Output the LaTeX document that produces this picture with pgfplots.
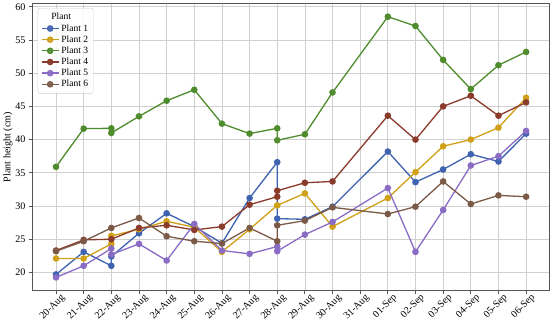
\documentclass[border=0pt]{standalone}
\usepackage{pgfplots}
\pgfplotsset{compat=1.18}
\usepackage{fontspec}
\setmainfont{Liberation Serif}

\definecolor{pA}{HTML}{3F63B0}
\definecolor{pB}{HTML}{D1A019}
\definecolor{pC}{HTML}{4E8C2E}
\definecolor{pD}{HTML}{8A3B2C}
\definecolor{pE}{HTML}{8A6CC4}
\definecolor{pF}{HTML}{7B5A48}
\definecolor{gridc}{HTML}{D0D0D0}
\definecolor{spine}{HTML}{555555}

\begin{document}
\begin{tikzpicture}
\begin{axis}[
    width=512bp, height=284bp,
    scale only axis,
    xmin=-0.85, xmax=17.85,
    ymin=17.27, ymax=60.45,
    xtick={0,...,17},
    xticklabels={20-Aug,21-Aug,22-Aug,23-Aug,24-Aug,25-Aug,26-Aug,27-Aug,28-Aug,29-Aug,30-Aug,31-Aug,01-Sep,02-Sep,03-Sep,04-Sep,05-Sep,06-Sep},
    ytick={20,25,...,60},
    tick pos=left,
    tick align=outside,
    major tick length=3.5bp,
    tick style={spine, line width=0.8pt},
    axis line style={spine, line width=0.8pt},
    grid=major,
    grid style={gridc, line width=0.7pt},
    /pgf/number format/assume math mode=true,
    ticklabel style={font=\fontsize{10}{11}\selectfont},
    xticklabel style={rotate=45, anchor=north east, xshift=7bp, yshift=1bp},
    ylabel={Plant height (cm)},
    ylabel style={font=\fontsize{10}{11}\selectfont, yshift=-4bp},
    every axis plot/.append style={line width=1.3pt, mark=*, mark size=2.6bp},
    legend cell align=left,
    legend style={
        at={(0.01,0.985)}, anchor=north west,
        font=\fontsize{9.5}{11}\selectfont,
        draw=gridc, fill=white, fill opacity=0.85, text opacity=1,
        rounded corners=2bp,
        row sep=-1bp,
        inner sep=3bp
    },
]

\addlegendimage{empty legend}
\addlegendentry{\hspace{-10bp}Plant}

\addplot[pA] coordinates {
(0,19.7) (1,23.1) (2,21.0) (2,22.4) (3,25.9) (4,28.9) (5,26.9) (6,24.4) (7,31.2)
(8,36.6) (8,28.1) (9,28.0) (10,29.9) (12,38.2) (13,33.6) (14,35.5) (15,37.8) (16,36.7) (17,40.9)
};
\addlegendentry{Plant 1}

\addplot[pB] coordinates {
(0,22.1) (1,22.1) (2,24.3) (2,25.5) (3,26.5) (4,27.7) (5,26.8) (6,23.1) (7,26.5)
(8,30.1) (9,31.9) (10,26.9) (12,31.2) (13,35.1) (14,39.0) (15,40.0) (16,41.8) (17,46.3)
};
\addlegendentry{Plant 2}

\addplot[pC] coordinates {
(0,35.9) (1,41.65) (2,41.7) (2,41.0) (3,43.5) (4,45.85) (5,47.5) (6,42.4) (7,40.9)
(8,41.7) (8,39.9) (9,40.8) (10,47.1) (12,58.5) (13,57.1) (14,52.0) (15,47.6) (16,51.2) (17,53.2)
};
\addlegendentry{Plant 3}

\addplot[pD] coordinates {
(0,23.3) (1,24.9) (2,25.0) (3,26.7) (4,27.1) (5,26.4) (6,26.9) (7,30.2)
(8,31.4) (8,32.3) (9,33.5) (10,33.7) (12,43.6) (13,40.0) (14,45.0) (15,46.6) (16,43.6) (17,45.6)
};
\addlegendentry{Plant 4}

\addplot[pE] coordinates {
(0,19.25) (1,21.0) (2,23.6) (2,22.7) (3,24.3) (4,21.8) (5,27.3) (6,23.3) (7,22.8)
(8,23.9) (8,23.2) (9,25.7) (10,27.6) (12,32.7) (13,23.1) (14,29.4) (15,36.1) (16,37.5) (17,41.3)
};
\addlegendentry{Plant 5}

\addplot[pF] coordinates {
(0,23.2) (1,24.7) (2,26.7) (3,28.2) (4,25.45) (5,24.7) (6,24.35) (7,26.7)
(8,24.7) (8,27.1) (9,27.8) (10,29.8) (12,28.8) (13,29.9) (14,33.7) (15,30.3) (16,31.6) (17,31.4)
};
\addlegendentry{Plant 6}

\end{axis}
\end{tikzpicture}
\end{document}
